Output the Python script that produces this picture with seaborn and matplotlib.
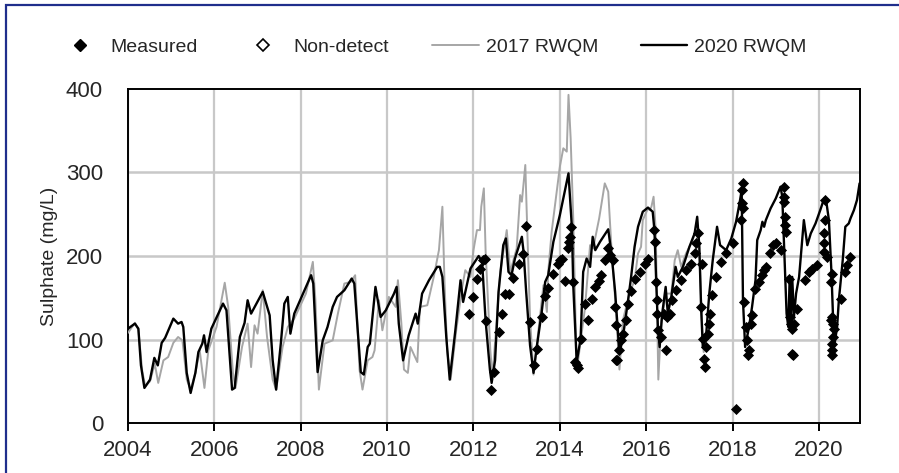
import matplotlib
matplotlib.use('Agg')
import matplotlib.pyplot as plt
import seaborn as sns
import pandas as pd
from matplotlib.lines import Line2D
from matplotlib.patches import Rectangle

# 2020 RWQM model (decimal year, mg/L)
rwqm2020_year = [2004.00, 2004.16, 2004.24, 2004.30, 2004.38, 2004.51, 2004.61, 2004.69, 2004.78, 2004.86,
                 2005.05, 2005.16, 2005.24, 2005.28, 2005.36, 2005.45, 2005.56, 2005.63, 2005.72, 2005.76,
                 2005.82, 2005.93, 2006.20, 2006.28, 2006.41, 2006.47, 2006.59, 2006.70, 2006.77, 2006.85,
                 2007.12, 2007.28, 2007.35, 2007.43, 2007.54, 2007.62, 2007.70, 2007.76, 2007.85, 2008.12,
                 2008.24, 2008.29, 2008.39, 2008.51, 2008.62, 2008.74, 2008.84, 2009.01, 2009.18, 2009.24,
                 2009.39, 2009.46, 2009.55, 2009.60, 2009.73, 2009.85, 2009.97, 2010.16, 2010.22, 2010.27,
                 2010.37, 2010.50, 2010.66, 2010.71, 2010.81, 2010.97, 2011.16, 2011.22, 2011.28, 2011.37,
                 2011.45, 2011.58, 2011.70, 2011.76, 2011.93, 2012.12, 2012.20, 2012.28, 2012.38, 2012.42,
                 2012.50, 2012.58, 2012.69, 2012.75, 2012.81, 2012.88, 2012.96, 2013.12, 2013.16, 2013.22,
                 2013.31, 2013.39, 2013.46, 2013.58, 2013.66, 2013.73, 2013.85, 2014.00, 2014.20, 2014.28,
                 2014.31, 2014.39, 2014.48, 2014.54, 2014.62, 2014.70, 2014.76, 2014.82, 2014.93, 2015.12,
                 2015.20, 2015.28, 2015.38, 2015.46, 2015.58, 2015.65, 2015.73, 2015.81, 2015.92, 2016.04,
                 2016.15, 2016.19, 2016.23, 2016.27, 2016.31, 2016.37, 2016.45, 2016.50, 2016.58, 2016.68,
                 2016.73, 2016.85, 2017.00, 2017.12, 2017.18, 2017.23, 2017.27, 2017.31, 2017.39, 2017.46,
                 2017.54, 2017.64, 2017.71, 2017.85, 2017.97, 2018.08, 2018.16, 2018.21, 2018.24, 2018.29,
                 2018.38, 2018.45, 2018.53, 2018.57, 2018.65, 2018.69, 2018.73, 2018.77, 2018.88, 2018.92,
                 2019.00, 2019.11, 2019.15, 2019.19, 2019.25, 2019.29, 2019.32, 2019.35, 2019.38, 2019.42,
                 2019.47, 2019.54, 2019.65, 2019.73, 2019.81, 2019.92, 2020.03, 2020.12, 2020.17, 2020.23,
                 2020.29, 2020.35, 2020.42, 2020.46, 2020.55, 2020.61, 2020.69, 2020.73, 2020.81, 2020.88,
                 2020.94]
rwqm2020_val = [113, 119, 113, 69, 42, 52, 78, 69, 96, 102,
                125, 119, 121, 115, 60, 36, 60, 85, 95, 105,
                85, 113, 143, 135, 40, 42, 103, 120, 147, 131,
                157, 129, 75, 40, 96, 143, 151, 107, 131, 163,
                177, 167, 61, 99, 115, 139, 151, 159, 173, 167,
                61, 58, 91, 95, 163, 127, 135, 155, 163, 119,
                75, 105, 131, 119, 155, 171, 187, 187, 175, 103,
                52, 111, 171, 145, 185, 200, 193, 123, 64, 48,
                75, 157, 213, 221, 181, 177, 197, 223, 205, 157,
                93, 60, 89, 133, 169, 177, 217, 249, 299, 233,
                165, 73, 101, 181, 197, 187, 223, 207, 217, 232,
                201, 157, 83, 103, 147, 175, 211, 235, 253, 258,
                253, 231, 171, 115, 91, 131, 163, 131, 151, 187,
                175, 187, 211, 227, 247, 211, 139, 91, 107, 155,
                195, 235, 213, 207, 221, 241, 263, 279, 147, 91,
                115, 139, 171, 219, 231, 241, 235, 243, 257, 261,
                269, 283, 271, 215, 131, 115, 171, 123, 175, 127,
                155, 175, 243, 213, 227, 239, 255, 269, 265, 243,
                179, 91, 115, 147, 195, 235, 239, 245, 255, 267,
                287]

# 2017 RWQM model
rwqm2017_year = [2004.00, 2004.16, 2004.24, 2004.33, 2004.40, 2004.51, 2004.62, 2004.70, 2004.82, 2004.93,
                 2005.05, 2005.16, 2005.26, 2005.36, 2005.45, 2005.56, 2005.66, 2005.77, 2005.86, 2006.05,
                 2006.24, 2006.32, 2006.43, 2006.49, 2006.64, 2006.77, 2006.85, 2006.93, 2007.00, 2007.12,
                 2007.22, 2007.35, 2007.43, 2007.58, 2007.70, 2007.85, 2008.12, 2008.28, 2008.34, 2008.42,
                 2008.55, 2008.74, 2008.86, 2009.01, 2009.16, 2009.26, 2009.36, 2009.43, 2009.55, 2009.66,
                 2009.71, 2009.81, 2009.89, 2010.04, 2010.20, 2010.25, 2010.33, 2010.39, 2010.48, 2010.54,
                 2010.70, 2010.76, 2010.93, 2011.08, 2011.20, 2011.28, 2011.33, 2011.39, 2011.47, 2011.60,
                 2011.74, 2011.81, 2011.93, 2012.00, 2012.08, 2012.15, 2012.18, 2012.24, 2012.28, 2012.39,
                 2012.44, 2012.62, 2012.77, 2012.85, 2013.00, 2013.08, 2013.12, 2013.20, 2013.23, 2013.31,
                 2013.39, 2013.62, 2013.70, 2013.73, 2013.81, 2014.00, 2014.08, 2014.16, 2014.20, 2014.25,
                 2014.31, 2014.39, 2014.58, 2014.70, 2014.77, 2014.91, 2015.04, 2015.12, 2015.20, 2015.28,
                 2015.38, 2015.46, 2015.61, 2015.73, 2015.81, 2015.88, 2015.92, 2016.04, 2016.08, 2016.12,
                 2016.17, 2016.22, 2016.28, 2016.35, 2016.46, 2016.58, 2016.66, 2016.73, 2016.81, 2016.92,
                 2017.04, 2017.16, 2017.23, 2017.29, 2017.33]
rwqm2017_val = [108, 120, 112, 62, 44, 50, 71, 48, 75, 79,
                96, 103, 99, 52, 40, 60, 87, 42, 87, 115,
                168, 139, 60, 42, 91, 119, 67, 117, 107, 159,
                103, 52, 40, 91, 115, 125, 155, 193, 147, 40,
                95, 99, 131, 167, 169, 177, 64, 40, 75, 79,
                87, 147, 111, 151, 139, 171, 119, 64, 60, 91,
                73, 139, 141, 175, 207, 259, 167, 87, 52, 111,
                163, 183, 175, 207, 231, 231, 259, 281, 207, 87,
                55, 181, 231, 181, 209, 273, 265, 309, 257, 125,
                58, 165, 133, 181, 229, 307, 329, 325, 393, 341,
                245, 62, 137, 213, 209, 245, 287, 277, 205, 149,
                64, 123, 155, 171, 203, 211, 243, 257, 255, 259,
                271, 231, 52, 123, 155, 155, 195, 207, 187, 203,
                215, 231, 203, 123, 85]

# Measured samples
measured_year = [2011.90, 2011.98, 2012.07, 2012.15, 2012.21, 2012.26, 2012.30, 2012.41, 2012.47, 2012.58,
                 2012.65, 2012.74, 2012.82, 2012.91, 2013.06, 2013.14, 2013.21, 2013.31, 2013.39, 2013.46,
                 2013.58, 2013.66, 2013.73, 2013.85, 2013.96, 2014.00, 2014.04, 2014.12, 2014.20, 2014.22,
                 2014.24, 2014.26, 2014.31, 2014.36, 2014.39, 2014.42, 2014.48, 2014.58, 2014.65, 2014.74,
                 2014.82, 2014.90, 2014.96, 2015.04, 2015.12, 2015.17, 2015.22, 2015.28, 2015.30, 2015.31,
                 2015.33, 2015.38, 2015.42, 2015.46, 2015.52, 2015.58, 2015.65, 2015.75, 2015.85, 2015.96,
                 2016.05, 2016.19, 2016.20, 2016.22, 2016.24, 2016.26, 2016.27, 2016.35, 2016.40, 2016.45,
                 2016.48, 2016.55, 2016.60, 2016.69, 2016.81, 2016.92, 2017.04, 2017.12, 2017.16, 2017.19,
                 2017.27, 2017.29, 2017.31, 2017.33, 2017.35, 2017.38, 2017.42, 2017.45, 2017.48, 2017.53,
                 2017.62, 2017.73, 2017.85, 2018.00, 2018.08, 2018.20, 2018.21, 2018.22, 2018.23, 2018.24,
                 2018.27, 2018.30, 2018.34, 2018.35, 2018.38, 2018.43, 2018.46, 2018.52, 2018.60, 2018.67,
                 2018.73, 2018.78, 2018.86, 2018.94, 2019.01, 2019.11, 2019.18, 2019.19, 2019.20, 2019.21,
                 2019.22, 2019.23, 2019.30, 2019.33, 2019.36, 2019.37, 2019.38, 2019.40, 2019.43, 2019.49,
                 2019.68, 2019.77, 2019.85, 2019.96, 2020.13, 2020.14, 2020.12, 2020.11, 2020.12, 2020.18,
                 2020.27, 2020.30, 2020.29, 2020.30, 2020.32, 2020.34, 2020.32, 2020.30, 2020.31, 2020.30,
                 2020.50, 2020.60, 2020.66, 2020.73]
measured_val = [130, 151, 173, 184, 195, 196, 122, 40, 61, 109,
                131, 154, 154, 174, 190, 202, 236, 121, 69, 89,
                127, 152, 162, 178, 190, 195, 197, 170, 209, 217,
                223, 235, 169, 73, 69, 66, 101, 143, 123, 149,
                163, 170, 177, 195, 209, 201, 195, 139, 117, 75,
                75, 87, 99, 107, 123, 143, 158, 172, 181, 191,
                196, 231, 217, 169, 147, 131, 111, 103, 131, 87,
                127, 131, 147, 159, 171, 183, 191, 203, 215, 227,
                139, 191, 101, 77, 67, 91, 107, 119, 131, 153,
                175, 193, 203, 215, 17, 243, 279, 263, 258, 287,
                145, 115, 99, 81, 87, 119, 129, 161, 169, 177,
                183, 187, 203, 213, 215, 207, 283, 271, 265, 247,
                237, 229, 173, 127, 119, 113, 83, 81, 119, 137,
                171, 181, 185, 189, 267, 243, 227, 215, 205, 199,
                123, 179, 169, 127, 119, 113, 103, 95, 87, 81,
                149, 181, 189, 199]

x_ticks = [2004, 2006, 2008, 2010, 2012, 2014, 2016, 2018, 2020]
y_ticks = [0, 100, 200, 300, 400]

df20 = pd.DataFrame({'year': rwqm2020_year, 'value': rwqm2020_val})
df17 = pd.DataFrame({'year': rwqm2017_year, 'value': rwqm2017_val})
dfm = pd.DataFrame({'year': measured_year, 'value': measured_val})

sns.set_style('white')
plt.rcParams['font.family'] = ['Liberation Sans', 'DejaVu Sans']

fig = plt.figure(figsize=(8.99, 4.73), dpi=100)
ax = fig.add_axes([128 / 899, 50 / 473, 732 / 899, 334 / 473])

grey = '#A6A6A6'
gridc = '#C8C8C8'

# horizontal grid at the y tick values
for t in y_ticks[1:-1]:
    ax.axhline(t, color=gridc, linewidth=1.8, zorder=1)

sns.lineplot(data=df17, x='year', y='value', ax=ax, color=grey, linewidth=1.4,
             estimator=None, sort=False, zorder=3)
sns.lineplot(data=df20, x='year', y='value', ax=ax, color='black', linewidth=1.7,
             estimator=None, sort=False, zorder=4)
sns.scatterplot(data=dfm, x='year', y='value', ax=ax, color='black', marker='D',
                s=32, linewidth=0, zorder=5)

ax.set_xlim(2004, 2020.95)
ax.set_ylim(0, 400)
ax.set_xticks(x_ticks)
ax.set_xticklabels([str(t) for t in x_ticks])
ax.set_yticks(y_ticks)
for sp in ax.spines.values():
    sp.set_color('black')
    sp.set_linewidth(1.4)
ax.tick_params(axis='x', length=6, width=1.4, direction='out', labelsize=16, pad=6,
               color='black', bottom=True)
ax.tick_params(axis='y', length=0, labelsize=16, pad=18)
ax.set_xlabel('')
ax.set_ylabel('Sulphate (mg/L)', fontsize=14)
ax.yaxis.set_label_coords(-0.096, 0.5)
ax.set_axisbelow(True)
ax.xaxis.grid(True, color=gridc, linewidth=1.6, linestyle='-')

handles = [
    Line2D([], [], linestyle='none', marker='D', markersize=6, color='black'),
    Line2D([], [], linestyle='none', marker='D', markersize=6, markerfacecolor='white',
           markeredgecolor='black', markeredgewidth=1.2),
    Line2D([], [], color=grey, linewidth=1.4),
    Line2D([], [], color='black', linewidth=1.7),
]
labels = ['Measured', 'Non-detect', '2017 RWQM', '2020 RWQM']
fig.legend(handles, labels, loc='center', bbox_to_anchor=(0.480, 0.900), ncol=4,
           frameon=False, fontsize=14, handlelength=2.4, handletextpad=0.35,
           columnspacing=2.2)

fig.patches.append(Rectangle((6 / 899, -0.05), 2, 1 - 5 / 473 + 0.05, transform=fig.transFigure,
                             fill=False, edgecolor='#1F2E8C', linewidth=1.6, zorder=10))

fig.savefig('out.png', dpi=100)
